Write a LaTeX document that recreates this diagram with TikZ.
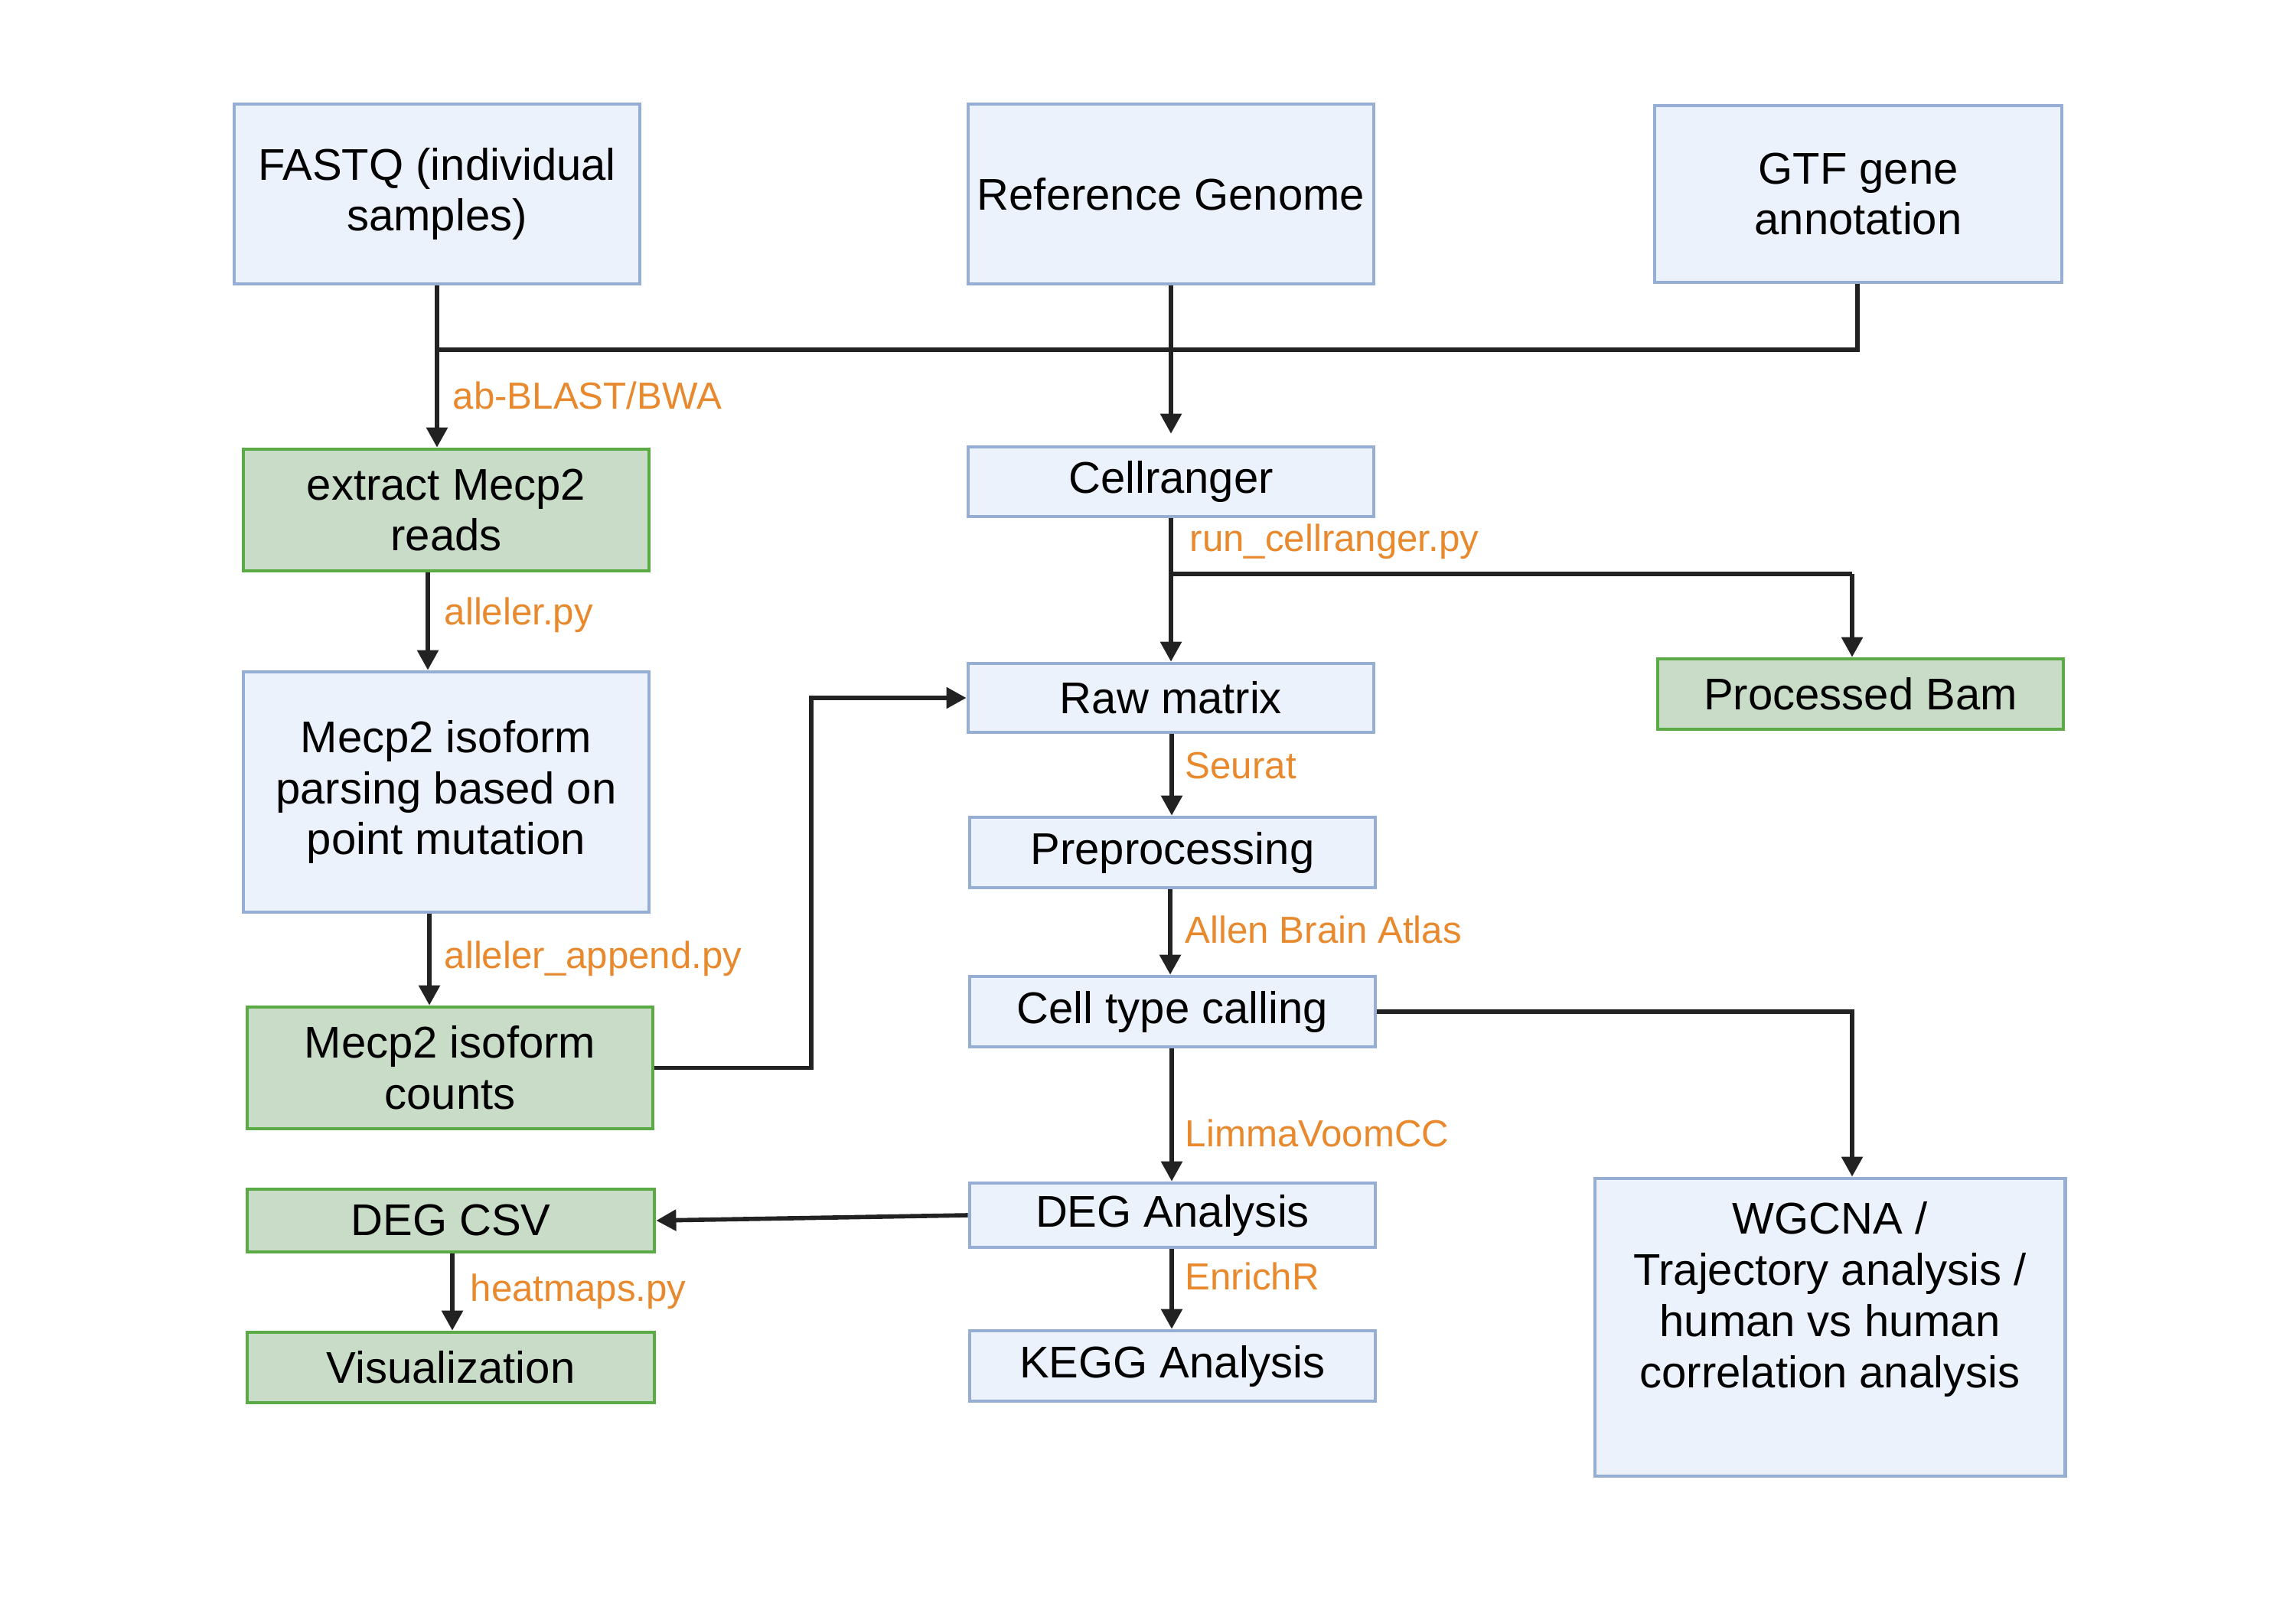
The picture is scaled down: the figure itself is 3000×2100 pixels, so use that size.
\documentclass[tikz,border=0pt]{standalone}
\usepackage{fontspec}
\setmainfont{Liberation Sans}
\usetikzlibrary{arrows.meta,calc}
\definecolor{bfill}{HTML}{EBF2FB}
\definecolor{bdraw}{HTML}{97AED4}
\definecolor{gfill}{HTML}{C8DCC8}
\definecolor{gdraw}{HTML}{5AAA46}
\definecolor{lbl}{HTML}{E8892E}
\definecolor{ln}{HTML}{222222}
\tikzset{
  bluebox/.style={draw=bdraw,fill=bfill,line width=1.3pt,align=center,inner sep=1pt,font=\fontsize{16.5}{19}\selectfont},
  greenbox/.style={draw=gdraw,fill=gfill,line width=1.3pt,align=center,inner sep=1pt,font=\fontsize{16.5}{19}\selectfont},
  plaintext/.style={align=center,inner sep=0pt,font=\fontsize{16.5}{19}\selectfont},
  conn/.style={draw=ln,line width=1.6pt},
  arr/.style={conn,-{Triangle[length=0.26cm,width=0.27cm]}},
  lab/.style={text=lbl,anchor=west,inner sep=0pt,font=\fontsize{14}{16}\selectfont},
}
\begin{document}
\begin{tikzpicture}[x=0.01cm,y=-0.01cm]
\useasboundingbox (0,0) rectangle (3000,2100);
% boxes
\node[bluebox,minimum width=5.30cm,minimum height=2.35cm] (fastq) at (571,253.5) {FASTQ (individual\\samples)};
\node[bluebox,minimum width=5.30cm,minimum height=2.35cm] (ref) at (1530,253.5) {Reference Genome};
\node[bluebox,minimum width=5.32cm,minimum height=2.31cm] (gtf) at (2428,253.5) {GTF gene\\annotation};
\node[greenbox,minimum width=5.30cm,minimum height=1.59cm] (extract) at (583,666.5) {extract Mecp2\\reads};
\node[bluebox,minimum width=5.30cm,minimum height=0.91cm] (cell) at (1530,629.5) {Cellranger};
\node[bluebox,minimum width=5.30cm,minimum height=0.90cm] (raw) at (1530,912) {Raw matrix};
\node[greenbox,minimum width=5.30cm,minimum height=0.92cm] (bam) at (2431,907) {Processed Bam};
\node[bluebox,minimum width=5.30cm,minimum height=3.14cm] (parse) at (583,1035) {Mecp2 isoform\\parsing based on\\point mutation};
\node[greenbox,minimum width=5.30cm,minimum height=1.59cm] (counts) at (588,1395.5) {Mecp2 isoform\\counts};
\node[bluebox,minimum width=5.30cm,minimum height=0.92cm] (prep) at (1532,1114) {Preprocessing};
\node[bluebox,minimum width=5.30cm,minimum height=0.92cm] (ctc) at (1532,1322) {Cell type calling};
\node[bluebox,minimum width=5.30cm,minimum height=0.84cm] (dega) at (1532,1588) {DEG Analysis};
\node[greenbox,minimum width=5.32cm,minimum height=0.82cm] (degcsv) at (589,1595) {DEG CSV};
\node[greenbox,minimum width=5.32cm,minimum height=0.92cm] (vis) at (589,1787) {Visualization};
\node[bluebox,minimum width=5.30cm,minimum height=0.92cm] (kegg) at (1532,1785) {KEGG Analysis};
\node[bluebox,minimum width=6.14cm,minimum height=3.89cm] (wgcna) at (2391,1734.5) {};
\node[plaintext] (wgcnatext) at (2391,1698) {WGCNA /\\Trajectory analysis /\\human vs human\\correlation analysis};
% junction coordinates
\coordinate (j1) at (571,457);
\coordinate (j2) at (2427,457);
\coordinate (j3) at (1530,750);
\coordinate (j4) at (2420,750);
\coordinate (j5) at (1060,1395.5);
\coordinate (j6) at (1060,912);
\coordinate (j7) at (2420,1322);
% connectors
\draw[conn] (fastq.south -| j1) -- (j1) -- (j2) -- (gtf.south -| j2);
\draw[arr] (j1) -- (extract.north -| j1);
\draw[arr,shorten >=0.15cm] (ref.south) -- (cell.north);
\draw[conn] (cell.south) -- (j3) -- (j4);
\draw[arr] (j3) -- (raw.north);
\draw[arr] (j4) -- (bam.north -| j4);
\draw[arr] (extract.south -| 559,0) -- (parse.north -| 559,0);
\draw[arr] (parse.south -| 561,0) -- (counts.north -| 561,0);
\draw[arr] (counts.east) -- (j5) -- (j6) -- (raw.west);
\draw[arr] (raw.south -| 1531,0) -- (prep.north -| 1531,0);
\draw[arr] (prep.south -| 1529,0) -- (ctc.north -| 1529,0);
\draw[arr] (ctc.east) -- (j7) -- (wgcna.north -| j7);
\draw[arr] (ctc.south -| 1531,0) -- (dega.north -| 1531,0);
\draw[arr] (dega.west) -- (degcsv.east);
\draw[arr] (degcsv.south -| 591,0) -- (vis.north -| 591,0);
\draw[arr] (dega.south -| 1531,0) -- (kegg.north -| 1531,0);
% labels
\node[lab] (l1) at (591,517) {ab-BLAST/BWA};
\node[lab] (l2) at (580,804) {alleler.py};
\node[lab] (l3) at (580,1253) {alleler\_append.py};
\node[lab] (l4) at (1554,708) {run\_cellranger.py};
\node[lab] (l5) at (1548,1001) {Seurat};
\node[lab] (l6) at (1548,1215) {Allen Brain Atlas};
\node[lab] (l7) at (1548,1481) {LimmaVoomCC};
\node[lab] (l8) at (1548,1668) {EnrichR};
\node[lab] (l9) at (614,1688) {heatmaps.py};
\end{tikzpicture}
\end{document}
